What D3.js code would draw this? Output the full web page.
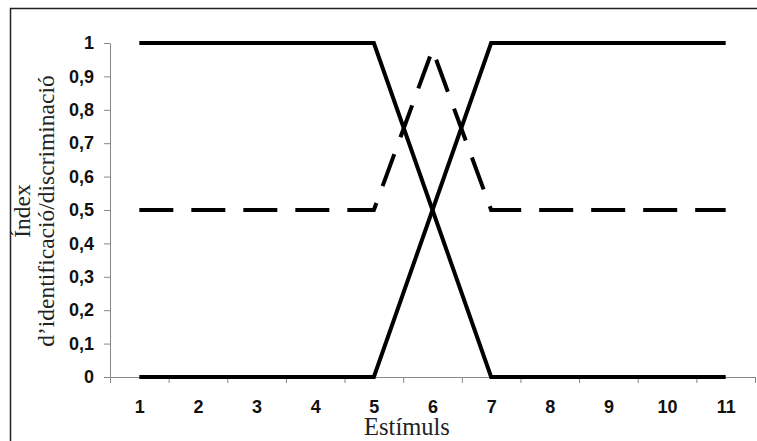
<!DOCTYPE html>
<html>
<head>
<meta charset="utf-8">
<script src="https://cdn.jsdelivr.net/npm/d3@7"></script>
<style>
  body { margin: 0; background: #fff; }
  svg { display: block; }
</style>
</head>
<body>
<div id="chart"></div>
<script>
// stimulus numbers on the x axis
const stimuli = [1, 2, 3, 4, 5, 6, 7, 8, 9, 10, 11];
// identification curve A (falls)
const identA = [1, 1, 1, 1, 1, 0.5, 0, 0, 0, 0, 0];
// identification curve B (rises)
const identB = [0, 0, 0, 0, 0, 0.5, 1, 1, 1, 1, 1];
// discrimination curve (dashed)
const discrim = [0.5, 0.5, 0.5, 0.5, 0.5, 0.98, 0.5, 0.5, 0.5, 0.5, 0.5];
const yTicks = [0, 0.1, 0.2, 0.3, 0.4, 0.5, 0.6, 0.7, 0.8, 0.9, 1];

const width = 757, height = 441;
const margin = { top: 43, right: 2, bottom: 64, left: 110 };

const svg = d3.select('#chart')
  .append('svg')
  .attr('width', width)
  .attr('height', height);

// outer frame (runs off the right and bottom edges)
svg.append('rect')
  .attr('x', 10.5)
  .attr('y', 8.5)
  .attr('width', 800)
  .attr('height', 500)
  .attr('fill', 'none')
  .attr('stroke', '#222')
  .attr('stroke-width', 1.5);

const xScale = d3.scaleLinear()
  .domain([0.5, 11.5])
  .range([margin.left, width - margin.right]);

const yScale = d3.scaleLinear()
  .domain([0, 1])
  .range([height - margin.bottom, margin.top]);

function styleLabels(sel) {
  sel.selectAll('text')
    .style('font-family', '"Liberation Sans", Arial, sans-serif')
    .style('font-weight', 'bold')
    .style('font-size', '18px')
    .attr('fill', '#111');
}

// Y axis
const yAxis = svg.append('g')
  .attr('transform', `translate(${margin.left}, 0)`)
  .call(d3.axisLeft(yScale)
    .tickValues(yTicks)
    .tickSize(6)
    .tickSizeOuter(0)
    .tickPadding(10)
    .tickFormat(d => String(d).replace('.', ',')));
yAxis.select('.domain').attr('stroke', '#888');
yAxis.selectAll('.tick line').attr('stroke', '#888');
styleLabels(yAxis);

// X axis: ticks between categories
const xAxis = svg.append('g')
  .attr('transform', `translate(0, ${yScale(0)})`)
  .call(d3.axisBottom(xScale)
    .tickValues(d3.range(0.5, 12, 1))
    .tickSize(6)
    .tickSizeOuter(0)
    .tickFormat(''));
xAxis.select('.domain').attr('stroke', '#888');
xAxis.selectAll('.tick line').attr('stroke', '#888');

// X labels at category centres
const xLabels = svg.append('g')
  .attr('transform', `translate(0, ${yScale(0)})`)
  .call(d3.axisBottom(xScale)
    .tickValues(stimuli)
    .tickSize(0)
    .tickPadding(23)
    .tickFormat(d3.format('d')));
xLabels.select('.domain').remove();
styleLabels(xLabels);

const line = d3.line()
  .x((d, i) => xScale(stimuli[i]))
  .y(d => yScale(d));

svg.append('path')
  .datum(identA)
  .attr('d', line)
  .attr('fill', 'none')
  .attr('stroke', '#000')
  .attr('stroke-width', 4);

svg.append('path')
  .datum(identB)
  .attr('d', line)
  .attr('fill', 'none')
  .attr('stroke', '#000')
  .attr('stroke-width', 4);

svg.append('path')
  .datum(discrim)
  .attr('d', line)
  .attr('fill', 'none')
  .attr('stroke', '#000')
  .attr('stroke-width', 4)
  .attr('stroke-dasharray', '34,18');

// axis titles
svg.append('text')
  .style('font-family', '"Liberation Serif", "Times New Roman", serif')
  .style('font-size', '24.5px')
  .attr('fill', '#222')
  .attr('x', 407)
  .attr('y', 435)
  .attr('text-anchor', 'middle')
  .text('Estímuls');

const yTitle = svg.append('text')
  .style('font-family', '"Liberation Serif", "Times New Roman", serif')
  .style('font-size', '23.5px')
  .attr('fill', '#222')
  .attr('transform', 'translate(30, 211) rotate(-90)')
  .attr('text-anchor', 'middle');
yTitle.append('tspan').attr('x', 0).attr('dy', 0).text('Índex');
yTitle.append('tspan').attr('x', 0).attr('dy', 23.5).text('d’identificació/discriminació');
</script>
</body>
</html>
